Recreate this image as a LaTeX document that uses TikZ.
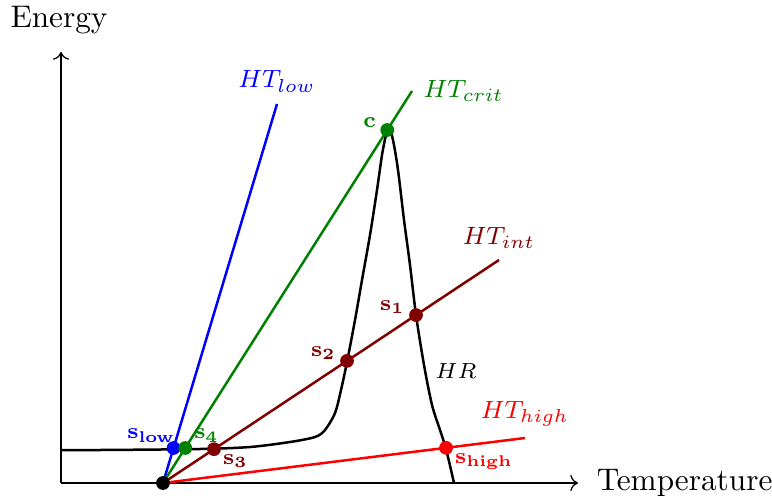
\documentclass[tikz,border=0pt]{standalone}
\usetikzlibrary{arrows.meta, positioning, calc}
\begin{document}
\begin{tikzpicture}[
  x=0.32pt, y=0.32pt,
  axis/.style={->, thin},
  hrcurve/.style={thick, black},
  htline/.style={thick},
  htlabel/.style={font=\footnotesize},
  dot/.style={circle, fill, inner sep=0pt, minimum size=4.4pt},
  slabel/.style={font=\scriptsize, inner sep=1pt},
]
\useasboundingbox (0,0) rectangle (772,497);
% axes
\coordinate (orig) at (61,14);
\coordinate (xend) at (578,14);
\coordinate (yend) at (61,445);
\draw[axis] (orig) -- (xend);
\draw[axis] (orig) -- (yend);
\node (energy) at (59,477) {Energy};
\node[right=2.5pt of xend] (temp) {Temperature};
% HR curve
\draw[hrcurve] plot[smooth, tension=0.5] coordinates {
  (61,47) (100,47) (200,48) (250,50) (290,55) (315,60) (325,67) (335,84)
  (341,107) (347,135) (355,177) (362,217) (370,262) (377,307) (382,342)
  (386,362) (389,369) (393,357) (398,327) (404,277) (410,232) (416,182)
  (424,132) (432,92) (440,67) (446,48) (454,14)};
\node[font=\scriptsize] (hr) at (456,126) {$HR$};
% heat transfer lines
\coordinate (O) at (163,14);
\coordinate (lowEnd)  at (277,393);
\coordinate (critEnd) at (412,406);
\coordinate (intEnd)  at (499,237);
\coordinate (highEnd) at (525,59);
\draw[htline, blue]           (O) -- (lowEnd)  node[htlabel, above] (htlow)  {$HT_{low}$};
\draw[htline, green!50!black] (O) -- (critEnd) node[htlabel, right] (htcrit) {$HT_{crit}$};
\draw[htline, red!50!black]   (O) -- (intEnd)  node[htlabel, above] (htint)  {$HT_{int}$};
\draw[htline, red]            (O) -- (highEnd) node[htlabel, above] (hthigh) {$HT_{high}$};
% states
\node[dot, black] (start) at (O) {};
\node[dot, blue] (slow) at ($(O)!0.0923!(lowEnd)$) {};
\node[dot, green!50!black] (s4) at ($(O)!0.0893!(critEnd)$) {};
\node[dot, green!50!black] (c) at ($(O)!0.9005!(critEnd)$) {};
\node[dot, red!50!black] (s3) at ($(O)!0.1518!(intEnd)$) {};
\node[dot, red!50!black] (s2) at ($(O)!0.5476!(intEnd)$) {};
\node[dot, red!50!black] (s1) at ($(O)!0.753!(intEnd)$) {};
\node[dot, red] (shigh) at ($(O)!0.7818!(highEnd)$) {};
% state labels
\node[slabel, blue, above left=-1pt and -3.5pt of slow] (slowlab) {$\mathbf{s_{low}}$};
\node[slabel, green!50!black, above right=-1pt and 0pt of s4] (s4lab) {$\mathbf{s_4}$};
\node[slabel, green!50!black, left=0pt of c, yshift=2.5pt] (clab) {$\mathbf{c}$};
\node[slabel, red!50!black, below right=-1pt and 0pt of s3] (s3lab) {$\mathbf{s_3}$};
\node[slabel, red!50!black, left=0pt of s2, yshift=2.5pt] (s2lab) {$\mathbf{s_2}$};
\node[slabel, red!50!black, left=0pt of s1, yshift=2.5pt] (s1lab) {$\mathbf{s_1}$};
\node[slabel, red, below right=-1pt and 0pt of shigh] (shighlab) {$\mathbf{s_{high}}$};
\end{tikzpicture}
\end{document}
